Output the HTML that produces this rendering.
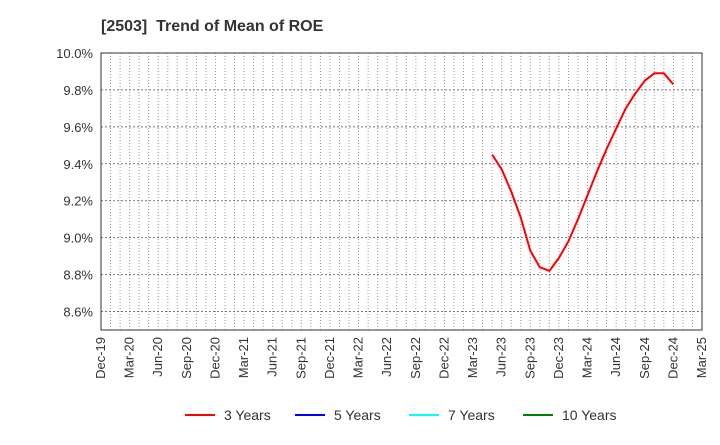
<!DOCTYPE html>
<html><head><meta charset="utf-8"><style>
body{margin:0;background:#fff;}
svg text{font-family:"Liberation Sans",Arial,sans-serif;}
</style></head><body>
<svg width="720" height="440" viewBox="0 0 720 440">
<text x="101" y="31" font-size="16" font-weight="bold" fill="#333">[2503]&#160; Trend of Mean of ROE</text>
<g id="grid"></g>
<g id="yticks"></g>
<g id="xticks"></g>
<g id="series"></g>
<rect x="101" y="53" width="601" height="277" fill="none" stroke="#333" stroke-width="1"/>
<g font-size="14" fill="#333">
<g><line x1="185" y1="415" x2="215" y2="415" stroke="#ff0000" stroke-width="2"/><text x="224" y="420">3 Years</text></g>
<g><line x1="295" y1="415" x2="325" y2="415" stroke="#0000ff" stroke-width="2"/><text x="334" y="420">5 Years</text></g>
<g><line x1="409" y1="415" x2="439" y2="415" stroke="#00ffff" stroke-width="2"/><text x="448" y="420">7 Years</text></g>
<g><line x1="523" y1="415" x2="553" y2="415" stroke="#008000" stroke-width="2"/><text x="562" y="420">10 Years</text></g>
</g>
</svg>
<script>
const xLabels=["Dec-19","Mar-20","Jun-20","Sep-20","Dec-20","Mar-21","Jun-21","Sep-21","Dec-21","Mar-22","Jun-22","Sep-22","Dec-22","Mar-23","Jun-23","Sep-23","Dec-23","Mar-24","Jun-24","Sep-24","Dec-24","Mar-25"];
const yTicks=[8.6,8.8,9.0,9.2,9.4,9.6,9.8,10.0];
const startMonth=41; // May-23, months since Dec-19
const roe3=[9.45,9.37,9.25,9.11,8.93,8.84,8.82,8.89,8.98,9.10,9.23,9.36,9.48,9.59,9.70,9.78,9.85,9.89,9.89,9.83];
const L=101,R=702,T=53,B=330,NM=63,YMIN=8.5,YMAX=10.0;
const xs=m=>L+(R-L)*m/NM, ys=v=>B-(B-T)*(v-YMIN)/(YMAX-YMIN);
const NS="http://www.w3.org/2000/svg";
function mk(tag,attrs,parent){const e=document.createElementNS(NS,tag);for(const k in attrs)e.setAttribute(k,attrs[k]);parent.appendChild(e);return e;}
const grid=document.getElementById('grid'),yt=document.getElementById('yticks'),xt=document.getElementById('xticks'),ser=document.getElementById('series');
for(let m=1;m<NM;m++){const l=mk('line',{x1:xs(m),x2:xs(m),y1:T,y2:B,stroke:'#999','stroke-width':1,'stroke-dasharray':'1,2'},grid);

}
yTicks.forEach(v=>{const y=ys(v);
const l=mk('line',{x1:L,x2:R,y1:y,y2:y,stroke:'#777','stroke-width':1,'stroke-dasharray':'2,2'},grid);


const t=mk('text',{x:L-8,y:y+5,'text-anchor':'end','font-size':13,fill:'#333'},yt);t.textContent=v.toFixed(1)+'%';

});
xLabels.forEach((s,i)=>{const x=xs(i*3);
const t=mk('text',{x:x+4,y:337,'text-anchor':'end','font-size':13,fill:'#333',transform:`rotate(-90 ${x+4} 337)`},xt);t.textContent=s;

});
const pts=roe3.map((v,i)=>xs(startMonth+i).toFixed(1)+','+ys(v).toFixed(1)).join(' ');
const pl=mk('polyline',{points:pts,fill:'none',stroke:'#ff0000','stroke-width':2,'stroke-linejoin':'round'},ser);


</script>
</body></html>
